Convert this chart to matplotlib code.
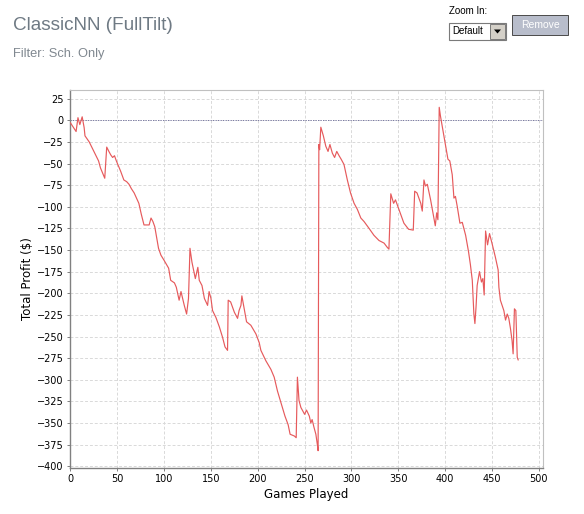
#!/usr/bin/env python3
"""
Total profit by games played, ClassicNN (FullTilt), schedule-only filter.
"""

import matplotlib
matplotlib.use("Agg")
import matplotlib.pyplot as plt
from matplotlib.patches import Rectangle, Polygon

# values (game number, running profit in $)
games = [
    0, 3, 6, 8, 10, 12.5, 14.6, 15.5, 20, 25, 30, 32, 36.6, 38.7, 41, 43, 45, 47, 49,
    53.6, 57, 60, 62.5, 65, 68, 73, 75.7, 78.5, 84, 86, 88, 90, 92.7, 94, 96.6, 100,
    104.8, 107, 111, 113, 116, 118, 121.5, 124, 126, 127.6, 129.7, 133.3, 136, 137.5,
    140.4, 143, 146.4, 148, 150, 151.7, 155.3, 159, 162.4, 165, 167.7, 168.4, 171, 173,
    175, 178.4, 180, 182, 183, 185.5, 188, 192.6, 198, 201.5, 203.3, 208.6, 214, 217.5,
    221, 224.6, 229, 232.4, 234.5, 239, 241, 242.3, 244, 246, 250, 252, 255, 256.6, 258,
    260, 262, 263.6, 264.4, 265.2, 266, 267.3, 270, 272.6, 275, 277, 279.6, 282, 284.3,
    286.8, 289, 292, 295.6, 299, 302.8, 306.3, 310, 313.4, 318.8, 324, 329.4, 334.8,
    338.3, 340, 342, 345, 347, 350.7, 356, 361, 366, 367.5, 370, 374, 375.6, 377.4, 379,
    381, 384.5, 386.3, 388, 389.5, 391, 392.3, 393.7, 395, 398, 400.5, 403, 405, 407.6,
    409.4, 411, 413, 415.8, 418.3, 421.9, 425, 427, 429, 430.7, 431.8, 433, 434.2, 436.7,
    438.8, 440.3, 441.7, 443.2, 445.3, 447.4, 450, 453.6, 456.6, 457.4, 459, 462.7,
    464.5, 466.3, 468, 469.8, 471.5, 472.6, 474, 475.5, 477, 478,
]
profit = [
    -3, -8, -13, 3, -5, 4, -8.5, -18, -25, -36, -47, -55, -67, -31, -36, -40, -43, -41, -47,
    -59, -69, -71, -74, -79, -84, -96, -109, -121, -121, -113, -117, -123, -140, -148, -156, -162,
    -171, -185, -188, -193, -208, -198, -214, -224, -206, -148, -164, -183, -170, -185,
    -191, -206, -214, -198, -206, -220, -228, -239, -251, -262, -266, -208, -210, -216,
    -222, -229, -220, -214, -203, -218, -233, -237, -247, -257, -266, -278, -288, -297,
    -313, -326, -342, -352, -363, -365, -367, -297, -324, -332, -340, -335, -342, -350, -346,
    -355, -363, -375, -382, -28, -34, -8, -18, -30, -36, -28, -38, -43, -36,
    -41, -45, -51, -69, -84, -96, -103, -113, -117, -125, -133, -139, -142,
    -147, -149, -85, -96, -92, -103, -119, -126, -127, -82, -84, -96, -105, -69, -76,
    -74, -92, -103, -113, -122, -107, -115, 15, 5, -14, -30, -45, -47, -63,
    -90, -88, -100, -119, -118, -133, -152, -167, -185, -224, -235, -216, -191, -175,
    -187, -183, -202, -128, -144, -131, -142, -158, -173, -193, -208, -220,
    -231, -224, -229, -241, -255, -270, -218, -220, -274, -277,
]

x_ticks = list(range(0, 501, 50))
y_ticks = list(range(25, -401, -25))

title = "ClassicNN (FullTilt)"
subtitle = "Filter: Sch. Only"

W, H = 584, 514
fig = plt.figure(figsize=(W / 100, H / 100), dpi=100)


def px(x, y):
    # pixel (from top-left) -> figure fraction
    return x / W, 1 - y / H


# header
fig.text(*px(13, 25), title, fontsize=13.6, color="#6f7a84",
         family="Liberation Sans", va="center", ha="left")
fig.text(*px(13, 54), subtitle, fontsize=9.3, color="#808890",
         family="Liberation Sans", va="center", ha="left")

# "Zoom In" combo and "Remove" button
fig.text(*px(449, 11), "Zoom In:", fontsize=7, color="black",
         family="Liberation Sans", va="center", ha="left")
x0, y0 = px(449, 40)
fig.patches.append(Rectangle((x0, y0), 57 / W, 17 / H, transform=fig.transFigure,
                             facecolor="white", edgecolor="#7a7a7a", lw=0.8))
fig.text(*px(452, 31.5), "Default", fontsize=7, color="black",
         family="Liberation Sans", va="center", ha="left")
bx, by = px(490, 38.5)
fig.patches.append(Rectangle((bx, by), 14.5 / W, 14 / H, transform=fig.transFigure,
                             facecolor="#d4d0c8", edgecolor="#6a6a6a", lw=0.6))
tri = [px(494, 29.5), px(501, 29.5), px(497.5, 33.5)]
fig.patches.append(Polygon(tri, closed=True, transform=fig.transFigure,
                           facecolor="black", edgecolor="none"))
rx, ry = px(512, 35)
fig.patches.append(Rectangle((rx, ry), 56 / W, 20 / H, transform=fig.transFigure,
                             facecolor="#b8bdcb", edgecolor="#4a4a4a", lw=0.7))
fig.text(*px(540, 25), "Remove", fontsize=7.5, color="white",
         family="Liberation Sans", va="center", ha="center")

# plot area
left, right, top, bottom = 70, 543, 90, 468
ax = fig.add_axes([left / W, 1 - bottom / H, (right - left) / W, (bottom - top) / H])

ax.plot(games, profit, color="#e65a5c", lw=0.85, zorder=3)
ax.axhline(0, color="#6a6a9a", lw=0.6, ls=(0, (1.5, 1.5)), zorder=2)

ax.set_xlim(-0.5, 504.5)
ax.set_ylim(-402, 35)
ax.set_xticks(x_ticks)
ax.set_yticks(y_ticks)
ax.grid(True, color="#d9d9d9", lw=0.7, ls=(0, (3, 2)))
ax.set_axisbelow(True)

for side in ["top", "right"]:
    ax.spines[side].set_color("#c0c0c0")
    ax.spines[side].set_linewidth(0.8)
for side in ["left", "bottom"]:
    ax.spines[side].set_color("#808080")
    ax.spines[side].set_linewidth(1.0)

ax.tick_params(axis="both", labelsize=7, colors="#808080", length=2.5, width=0.7,
               labelcolor="black", pad=2)
for lab in ax.get_xticklabels() + ax.get_yticklabels():
    lab.set_family("DejaVu Sans")

ax.set_xlabel("Games Played", fontsize=8.5, family="DejaVu Sans", labelpad=3)
ax.set_ylabel("Total Profit ($)", fontsize=8.5, family="DejaVu Sans", labelpad=2)

fig.savefig("out.png", dpi=100, facecolor="white")
